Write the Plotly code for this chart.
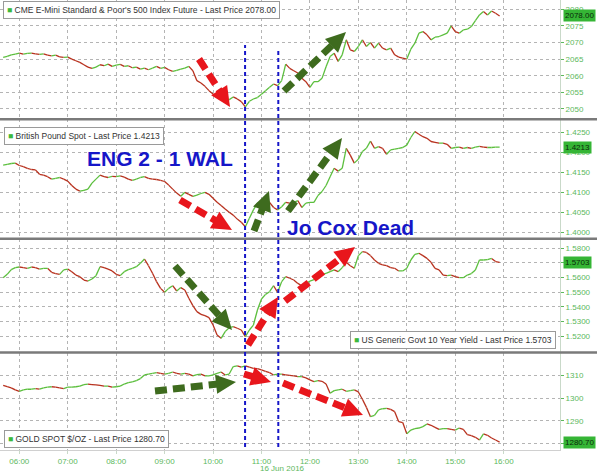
import math
import pandas as pd
import plotly.graph_objects as go

# ---------------- data (5-minute closes) ----------------
start_time = "2016-06-16 05:40"
spx_close = [
    2065.5, 2065.8, 2066.3, 2066.5, 2066.8, 2066.5, 2066.7, 2066.8, 2066.6, 2066.4,
    2066.6, 2066.2, 2066.0, 2066.2, 2065.7, 2065.5, 2065.6, 2065.0, 2064.5, 2064.0,
    2063.3, 2062.6, 2062.2, 2062.6, 2063.3, 2063.0, 2063.5, 2062.8, 2063.2, 2063.4,
    2062.8, 2063.0, 2062.4, 2062.6, 2062.0, 2062.3, 2061.8, 2062.3, 2062.8, 2062.2,
    2062.5, 2061.8, 2061.3, 2061.6, 2062.0, 2062.3, 2062.8, 2061.5, 2058.5, 2057.8,
    2056.8, 2055.5, 2054.5, 2053.5, 2052.8, 2052.3, 2052.8, 2053.6, 2053.0, 2052.2,
    2050.6, 2052.3, 2053.0, 2053.4, 2054.4, 2055.5, 2056.5, 2057.5, 2057.0, 2058.5,
    2063.5, 2062.2, 2061.5, 2060.8, 2059.2, 2058.2, 2056.5, 2058.2, 2058.2, 2059.2,
    2062.7, 2065.8, 2066.8, 2064.3, 2066.3, 2070.8, 2067.8, 2067.3, 2068.8, 2070.8,
    2068.8, 2070.0, 2068.3, 2069.8, 2068.3, 2067.8, 2068.3, 2066.3, 2065.6, 2065.3,
    2065.0, 2068.0, 2069.8, 2072.8, 2073.3, 2072.3, 2070.8, 2071.6, 2071.8, 2072.3,
    2072.8, 2075.0, 2073.3, 2072.8, 2073.8, 2074.0, 2074.8, 2076.6, 2078.3, 2079.3,
    2078.3, 2079.5, 2078.8, 2078.0,
]
gbp_close = [
    1.4168, 1.4170, 1.4172, 1.4173, 1.4167, 1.4164, 1.4160, 1.4157, 1.4156, 1.4145,
    1.4143, 1.4139, 1.4133, 1.4135, 1.4137, 1.4133, 1.4128, 1.4117, 1.4108, 1.4103,
    1.4105, 1.4108, 1.4123, 1.4133, 1.4143, 1.4139, 1.4137, 1.4140, 1.4139, 1.4141,
    1.4138, 1.4133, 1.4130, 1.4133, 1.4137, 1.4139, 1.4135, 1.4133, 1.4132, 1.4130,
    1.4127, 1.4118, 1.4108, 1.4098, 1.4090, 1.4100, 1.4095, 1.4090, 1.4093, 1.4097,
    1.4100, 1.4095, 1.4085, 1.4075, 1.4067, 1.4058, 1.4050, 1.4043, 1.4033, 1.4025,
    1.4014, 1.4035, 1.4056, 1.4073, 1.4079, 1.4081, 1.4075, 1.4062, 1.4056, 1.4064,
    1.4075, 1.4073, 1.4075, 1.4079, 1.4062, 1.4073, 1.4075, 1.4075, 1.4092, 1.4102,
    1.4117, 1.4139, 1.4160, 1.4153, 1.4160, 1.4210, 1.4193, 1.4173, 1.4183, 1.4202,
    1.4210, 1.4228, 1.4210, 1.4214, 1.4210, 1.4195, 1.4206, 1.4208, 1.4210, 1.4212,
    1.4218, 1.4237, 1.4252, 1.4245, 1.4239, 1.4235, 1.4227, 1.4225, 1.4223, 1.4223,
    1.4220, 1.4210, 1.4212, 1.4213, 1.4210, 1.4212, 1.4210, 1.4213, 1.4215, 1.4213,
    1.4212, 1.4212, 1.4213, 1.4213,
]
ust_close = [
    1.5599, 1.5622, 1.5654, 1.5668, 1.5672, 1.5668, 1.5663, 1.5672, 1.5668, 1.5658,
    1.5663, 1.5663, 1.5636, 1.5627, 1.5622, 1.5652, 1.5658, 1.5640, 1.5617, 1.5606,
    1.5583, 1.5576, 1.5590, 1.5613, 1.5674, 1.5668, 1.5658, 1.5645, 1.5622, 1.5613,
    1.5640, 1.5654, 1.5663, 1.5674, 1.5697, 1.5727, 1.5681, 1.5629, 1.5572, 1.5526,
    1.5499, 1.5526, 1.5544, 1.5508, 1.5531, 1.5515, 1.5458, 1.5408, 1.5367, 1.5348,
    1.5339, 1.5326, 1.5275, 1.5207, 1.5184, 1.5230, 1.5257, 1.5264, 1.5253, 1.5241,
    1.5196, 1.5241, 1.5275, 1.5378, 1.5453, 1.5485, 1.5503, 1.5544, 1.5499, 1.5572,
    1.5606, 1.5595, 1.5583, 1.5560, 1.5544, 1.5558, 1.5576, 1.5585, 1.5613, 1.5622,
    1.5629, 1.5640, 1.5652, 1.5640, 1.5668, 1.5704, 1.5681, 1.5663, 1.5750, 1.5777,
    1.5772, 1.5750, 1.5720, 1.5697, 1.5686, 1.5681, 1.5668, 1.5663, 1.5645, 1.5645,
    1.5663, 1.5720, 1.5759, 1.5766, 1.5750, 1.5731, 1.5704, 1.5663, 1.5652, 1.5617,
    1.5613, 1.5617, 1.5606, 1.5599, 1.5599, 1.5617, 1.5627, 1.5652, 1.5720, 1.5720,
    1.5722, 1.5731, 1.5709, 1.5703,
]
gold_close = [
    1305.7, 1305.1, 1304.6, 1303.7, 1303.1, 1303.7, 1304.0, 1304.0, 1304.3, 1304.0,
    1304.6, 1304.9, 1305.1, 1304.9, 1304.6, 1304.3, 1304.9, 1304.9, 1305.1, 1305.4,
    1306.0, 1306.3, 1306.0, 1305.9, 1305.7, 1305.4, 1305.4, 1304.9, 1305.1, 1305.4,
    1306.3, 1306.9, 1307.2, 1307.8, 1308.7, 1310.3, 1310.7, 1311.0, 1311.3, 1311.0,
    1310.7, 1311.0, 1311.6, 1311.0, 1310.7, 1311.0, 1310.7, 1309.9, 1310.4, 1310.7,
    1309.9, 1309.9, 1310.3, 1311.0, 1311.6, 1310.3, 1310.7, 1314.0, 1314.3, 1313.7,
    1314.3, 1313.7, 1313.2, 1313.1, 1312.5, 1311.9, 1311.3, 1310.3, 1310.7, 1310.7,
    1310.3, 1310.1, 1309.9, 1309.6, 1309.6, 1309.0, 1308.1, 1307.4, 1307.8, 1307.5,
    1306.3, 1302.2, 1303.4, 1303.7, 1304.0, 1303.1, 1303.4, 1303.7, 1302.8, 1299.6,
    1296.0, 1291.9, 1292.5, 1294.9, 1295.4, 1295.6, 1295.1, 1294.1, 1289.7, 1289.3,
    1284.3, 1286.0, 1286.6, 1286.9, 1287.5, 1288.7, 1288.1, 1287.2, 1286.3, 1286.6,
    1286.6, 1286.3, 1286.0, 1286.9, 1286.3, 1284.0, 1283.5, 1282.8, 1281.6, 1284.3,
    1283.7, 1282.5, 1281.6, 1280.7,
]

series_titles = [
    "CME E-Mini Standard & Poor's 500 Index Future - Last Price 2078.00",
    "British Pound Spot - Last Price 1.4213",
    "US Generic Govt 10 Year Yield - Last Price 1.5703",
    "GOLD SPOT $/OZ - Last Price 1280.70",
]
last_prices = [2078.00, 1.4213, 1.5703, 1280.70]
last_labels = ["2078.00", "1.4213", "1.5703", "1280.70"]

spx_ticks = [2050, 2055, 2060, 2065, 2070, 2075, 2080]
gbp_ticks = [1.4000, 1.4050, 1.4100, 1.4150, 1.4200, 1.4250]
ust_ticks = [1.5200, 1.5300, 1.5400, 1.5500, 1.5600, 1.5700, 1.5800]
gold_ticks = [1280, 1290, 1300, 1310]
hour_ticks = ["06:00", "07:00", "08:00", "09:00", "10:00", "11:00",
              "12:00", "13:00", "14:00", "15:00", "16:00"]
event_times = ["2016-06-16 10:39:40", "2016-06-16 11:20:50"]
event_texts = ["ENG 2 - 1 WAL", "Jo Cox Dead"]
date_label = "16 Jun 2016"

# ---------------- styling ----------------
GREEN_UP = "#5cbf3e"
RED_DN = "#b8321f"
AX_GREEN = "#5cb85c"
GRID = "#b4b4b4"
ARROW_RED = "#e8161c"
ARROW_GREEN = "#3e6b1e"
BLUE = "#1616c8"

W, H = 600, 474
PW, PH = 560, 450  # plot area in pixels (left 0, top 0)


def px(x):
    return x / PW


def py(y):
    return (PH - y) / PH


times = list(pd.date_range(start_time, periods=len(spx_close), freq="5min"))

fig = go.Figure()
panels = [
    (spx_close, "y", spx_ticks, "%.0f"),
    (gbp_close, "y2", gbp_ticks, "%.4f"),
    (ust_close, "y3", ust_ticks, "%.4f"),
    (gold_close, "y4", gold_ticks, "%.0f"),
]
for closes, yref, _, _ in panels:
    up_x, up_y, dn_x, dn_y = [], [], [], []
    for i in range(1, len(closes)):
        if closes[i] >= closes[i - 1]:
            up_x += [times[i - 1], times[i], None]
            up_y += [closes[i - 1], closes[i], None]
        else:
            dn_x += [times[i - 1], times[i], None]
            dn_y += [closes[i - 1], closes[i], None]
    fig.add_trace(go.Scatter(x=dn_x, y=dn_y, mode="lines", xaxis="x", yaxis=yref,
                             line=dict(color=RED_DN, width=1.3),
                             showlegend=False, hoverinfo="skip"))
    fig.add_trace(go.Scatter(x=up_x, y=up_y, mode="lines", xaxis="x", yaxis=yref,
                             line=dict(color=GREEN_UP, width=1.3),
                             showlegend=False, hoverinfo="skip"))

bounds = [0, 119.3, 238.7, 352.5, 450]
ranges = [
    [2046.87, 2082.8],
    [1.3984, 1.42825],
    [1.50871, 1.58657],
    [1277.2, 1320.2],
]

yaxis_common = dict(
    side="right", anchor="x", showline=True, linecolor="#c9d9c9", linewidth=1,
    ticks="outside", ticklen=3, tickcolor=AX_GREEN,
    tickfont=dict(family="Liberation Sans", size=8, color=AX_GREEN),
    showgrid=True, gridcolor=GRID, griddash="dot", gridwidth=1,
    zeroline=False, fixedrange=True, automargin=False,
)
layout_axes = {}
for k, (closes, yref, ticks, fmt) in enumerate(panels):
    name = "yaxis" if k == 0 else "yaxis%d" % (k + 1)
    layout_axes[name] = dict(
        yaxis_common,
        domain=[py(bounds[k + 1]), py(bounds[k])],
        range=ranges[k],
        tickvals=ticks,
        ticktext=[fmt % t for t in ticks],
    )

x_start = "2016-06-16 05:36:05"
x_end = "2016-06-16 17:09:48"
fig.update_layout(
    width=W, height=H,
    margin=dict(l=0, r=W - PW, t=0, b=H - PH, pad=0),
    paper_bgcolor="white", plot_bgcolor="white",
    xaxis=dict(
        type="date", range=[x_start, x_end], anchor="y4", automargin=False,
        tickvals=["2016-06-16 " + h for h in hour_ticks], ticktext=hour_ticks,
        tickfont=dict(family="Liberation Sans", size=8, color=AX_GREEN),
        ticks="outside", ticklen=3, tickcolor="#c9d9c9",
        showgrid=True, gridcolor=GRID, griddash="dot", gridwidth=1,
        showline=True, linecolor="#d0d0d0", zeroline=False,
        fixedrange=True,
    ),
    **layout_axes,
)

shapes = []
annotations = []

# panel separators
for b in bounds[1:4]:
    shapes.append(dict(type="line", xref="paper", yref="paper",
                       x0=0, x1=px(597), y0=py(b), y1=py(b),
                       line=dict(color="#7a7a7a", width=2.5)))

# event lines
for t, top in zip(event_times, [45, 48]):
    shapes.append(dict(type="line", xref="x", yref="paper",
                       x0=t, x1=t, y0=py(447), y1=py(top),
                       line=dict(color=BLUE, width=2, dash="4px,3px")))


def arrow(x0, y0, x1, y1, color, head_len=20, head_w=19, shaft_w=7):
    dx, dy = x1 - x0, y1 - y0
    L = math.hypot(dx, dy)
    ux, uy = dx / L, dy / L
    nx, ny = -uy, ux
    bx, by = x1 - ux * head_len, y1 - uy * head_len
    shapes.append(dict(type="line", xref="paper", yref="paper",
                       x0=px(x0), y0=py(y0), x1=px(bx + ux * 2), y1=py(by + uy * 2),
                       line=dict(color=color, width=shaft_w, dash="12px,6px")))
    p1 = (x1, y1)
    p2 = (bx + nx * head_w / 2, by + ny * head_w / 2)
    p3 = (bx - nx * head_w / 2, by - ny * head_w / 2)
    path = "M %.5f %.5f L %.5f %.5f L %.5f %.5f Z" % (
        px(p1[0]), py(p1[1]), px(p2[0]), py(p2[1]), px(p3[0]), py(p3[1]))
    shapes.append(dict(type="path", xref="paper", yref="paper", path=path,
                       fillcolor=color, line=dict(width=0)))


# decorative arrows (pixel positions of the annotation graphics)
arrow(199, 59, 230, 107, ARROW_RED)
arrow(284, 91, 346, 32, ARROW_GREEN)
arrow(180, 200, 232, 230, ARROW_RED)
arrow(254, 231, 269, 191, ARROW_GREEN)
arrow(288, 211, 342, 138, ARROW_GREEN)
arrow(175, 266, 232, 330, ARROW_GREEN)
arrow(248, 345, 278, 297, ARROW_RED)
arrow(285, 301, 355, 247, ARROW_RED)
arrow(155, 391, 236, 382, ARROW_GREEN)
arrow(244, 374, 271, 382, ARROW_RED, head_len=20)
arrow(283, 383, 363, 415, ARROW_RED)

# legend boxes
legend_pos = [(2.5, 1.5), (4, 126.5), (350, 331), (4, 430)]
for title, (lx, ly) in zip(series_titles, legend_pos):
    annotations.append(dict(
        xref="paper", yref="paper", x=px(lx), y=py(ly),
        xanchor="left", yanchor="top", showarrow=False,
        text="<span style='color:#3cb83c'>■</span> " + title,
        font=dict(family="Liberation Sans", size=8.5, color="#333333"),
        bgcolor="white", bordercolor="#9a9a9a", borderwidth=1, borderpad=3,
    ))

# last price labels
for k, (val, lab) in enumerate(zip(last_prices, last_labels)):
    yref = "y" if k == 0 else "y%d" % (k + 1)
    annotations.append(dict(
        xref="paper", yref=yref, x=px(563), y=val,
        xanchor="left", yanchor="middle", showarrow=False,
        text=lab, font=dict(family="Liberation Sans", size=8, color="#0a2a0a"),
        bgcolor="#35b535", borderpad=1,
    ))

# event texts
annotations.append(dict(
    xref="paper", yref="paper", x=px(160), y=py(158), xanchor="center", yanchor="middle",
    showarrow=False, text="<b>" + event_texts[0] + "</b>",
    font=dict(family="Liberation Sans", size=21, color=BLUE)))
annotations.append(dict(
    xref="paper", yref="paper", x=px(350), y=py(228), xanchor="center", yanchor="middle",
    showarrow=False, text="<b>" + event_texts[1] + "</b>",
    font=dict(family="Liberation Sans", size=21, color=BLUE)))

# date label under axis
annotations.append(dict(
    xref="paper", yref="paper", x=px(282), y=py(468), xanchor="center", yanchor="middle",
    showarrow=False, text=date_label,
    font=dict(family="Liberation Sans", size=8, color=AX_GREEN)))

fig.update_layout(shapes=shapes, annotations=annotations)
fig.write_html(
    "out.html",
    config={"displayModeBar": False},
    post_script="document.body.style.margin='0';document.body.style.padding='0';",
)
